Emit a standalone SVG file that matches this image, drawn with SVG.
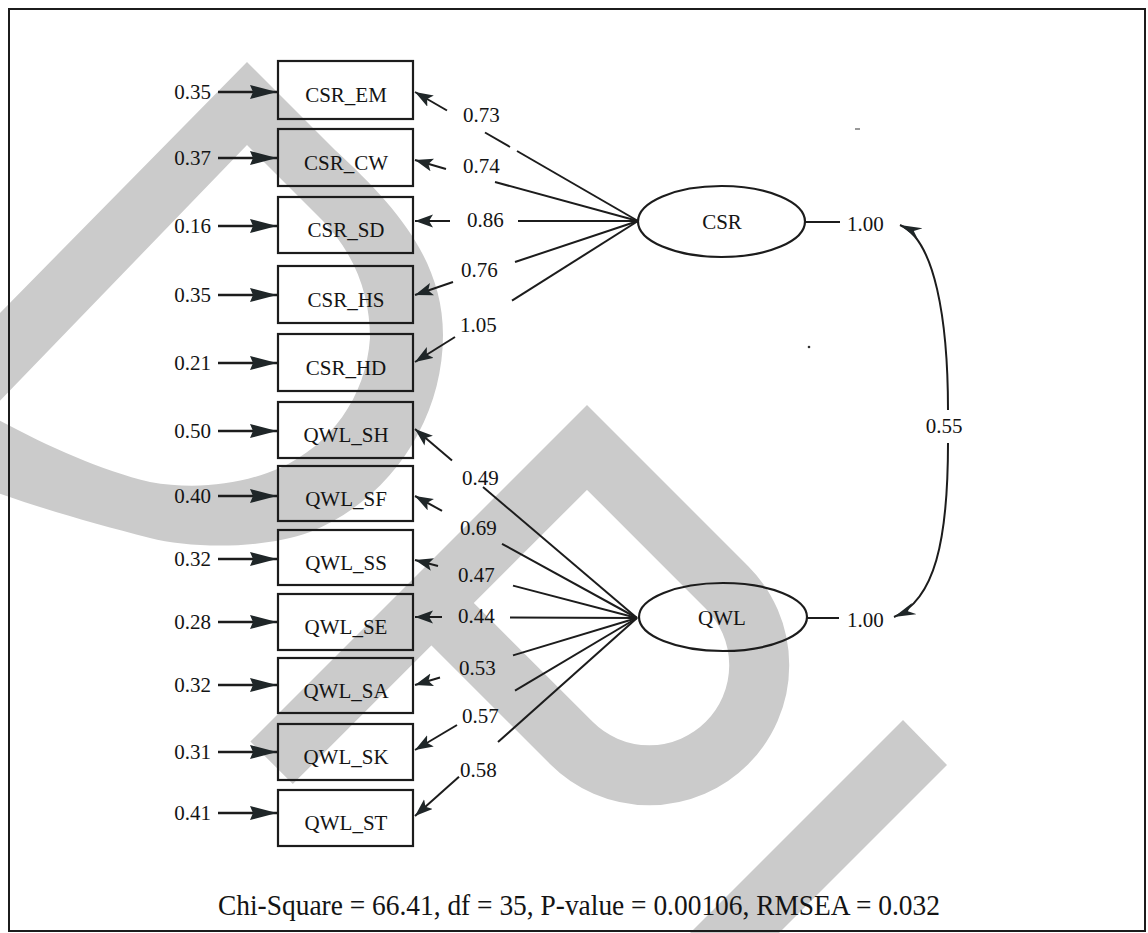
<svg xmlns="http://www.w3.org/2000/svg" width="1148" height="933" viewBox="0 0 1148 933">
<defs>
<style>
.wm{fill:none;stroke:#cbcbcb;stroke-linejoin:miter;stroke-miterlimit:10}
.wmf{fill:#cbcbcb;fill-rule:evenodd}
.box{fill:none;stroke:#1c1c1c;stroke-width:2.2}
.lat{fill:none;stroke:#1c1c1c;stroke-width:2.2}
.t{font-family:"Liberation Serif","Times New Roman",serif;font-size:21px;fill:#141414}
.tm{font-family:"Liberation Serif","Times New Roman",serif;font-size:21px;fill:#141414;text-anchor:middle}
.te{font-family:"Liberation Serif","Times New Roman",serif;font-size:21px;fill:#141414;text-anchor:end}
.err{stroke:#1c1c1c;stroke-width:2.6;marker-end:url(#hL)}
.ld{stroke:#1c1c1c;stroke-width:2}
.ah{stroke:#1c1c1c;stroke-width:2;marker-end:url(#hR)}
.cv{fill:none;stroke:#1c1c1c;stroke-width:2}
</style>
<marker id="hL" markerUnits="userSpaceOnUse" markerWidth="30" markerHeight="16" refX="27" refY="7" orient="auto"><path d="M0,0 L27,7 L0,14 L3,7 Z" fill="#1f2628"/></marker>
<marker id="hR" markerUnits="userSpaceOnUse" markerWidth="22" markerHeight="14" refX="18" refY="6.5" orient="auto"><path d="M0,0 L18,6.5 L0,13 L4,6.5 Z" fill="#1f2628"/></marker>
<marker id="hC" markerUnits="userSpaceOnUse" markerWidth="26" markerHeight="14" refX="22" refY="6" orient="auto-start-reverse"><path d="M0,0 L22,6 L0,12 L7,6 Z" fill="#1f2628"/></marker>
</defs>
<rect x="0" y="0" width="1148" height="933" fill="#ffffff"/>
<g id="watermark">
<path class="wmf" d="M-5,318 L247,62 L335,150 C395,205 443,260 443,335 C443,420 390,500 310,532 C260,550 190,548 150,538 C95,524 40,508 -5,492 Z M-5,406 L247,145 L318,216 C355,252 370,295 370,338 C366,398 330,445 280,468 C240,485 195,490 150,482 C100,470 45,445 -5,418 Z"/>
<path class="wm" transform="translate(587,405) rotate(45)" stroke-width="60" d="M30,476 L30,30 L228,30 A110,110 0 0 1 228,250 L30,250"/>
<polygon points="903,720 947,765 779,933 690,933" fill="#cbcbcb"/>
</g>
<rect id="frame" x="9" y="9" width="1136" height="922" fill="none" stroke="#1c1c1c" stroke-width="2"/>
<g id="connectors">
<line class="err" x1="218" y1="92" x2="277" y2="92"/>
<line class="err" x1="218" y1="158" x2="277" y2="158"/>
<line class="err" x1="218" y1="226" x2="277" y2="226"/>
<line class="err" x1="218" y1="295" x2="277" y2="295"/>
<line class="err" x1="218" y1="363" x2="277" y2="363"/>
<line class="err" x1="218" y1="431" x2="277" y2="431"/>
<line class="err" x1="218" y1="496" x2="277" y2="496"/>
<line class="err" x1="218" y1="559" x2="277" y2="559"/>
<line class="err" x1="218" y1="622" x2="277" y2="622"/>
<line class="err" x1="218" y1="685" x2="277" y2="685"/>
<line class="err" x1="218" y1="752" x2="277" y2="752"/>
<line class="err" x1="218" y1="813" x2="277" y2="813"/>
<line class="ld" x1="485" y1="132.5" x2="510" y2="147"/>
<line class="ld" x1="517" y1="151" x2="638" y2="221"/>
<line class="ld" x1="495" y1="182" x2="638" y2="221"/>
<line class="ld" x1="518" y1="221" x2="638" y2="221"/>
<line class="ld" x1="515" y1="262" x2="638" y2="221"/>
<line class="ld" x1="512" y1="300.7" x2="638" y2="221"/>
<line class="ah" x1="447" y1="110.5" x2="415" y2="92"/>
<line class="ah" x1="446" y1="169" x2="415" y2="160"/>
<line class="ah" x1="450" y1="221" x2="415" y2="221"/>
<line class="ah" x1="453" y1="282" x2="415" y2="295"/>
<line class="ah" x1="455" y1="337" x2="415" y2="362"/>
<line class="ld" x1="483" y1="487" x2="637" y2="618"/>
<line class="ld" x1="502" y1="543.8" x2="637" y2="618"/>
<line class="ld" x1="513" y1="585.6" x2="637" y2="618"/>
<line class="ld" x1="510" y1="617.5" x2="637" y2="618"/>
<line class="ld" x1="513" y1="655.4" x2="637" y2="618"/>
<line class="ld" x1="515" y1="690.6" x2="637" y2="618"/>
<line class="ld" x1="498" y1="742" x2="637" y2="618"/>
<line class="ah" x1="452" y1="460.5" x2="415" y2="429"/>
<line class="ah" x1="442" y1="510.8" x2="415" y2="496"/>
<line class="ah" x1="438" y1="566" x2="415" y2="560"/>
<line class="ah" x1="442" y1="617" x2="415" y2="617"/>
<line class="ah" x1="440" y1="677.5" x2="415" y2="685"/>
<line class="ah" x1="457" y1="725" x2="415" y2="750"/>
<line class="ah" x1="459" y1="776.8" x2="415" y2="816"/>
<line class="ld" x1="805" y1="222" x2="840" y2="222"/>
<line class="ld" x1="807" y1="618" x2="839" y2="618"/>
<path class="cv" d="M900,225 C935,240 948,320 948,410" marker-start="url(#hC)"/>
<path class="cv" d="M948,443 C948,540 935,600 894,617" marker-end="url(#hC)"/>
</g>
<g id="error-labels">
<text class="te" x="211" y="99">0.35</text>
<text class="te" x="211" y="165">0.37</text>
<text class="te" x="211" y="233">0.16</text>
<text class="te" x="211" y="302">0.35</text>
<text class="te" x="211" y="370">0.21</text>
<text class="te" x="211" y="438">0.50</text>
<text class="te" x="211" y="503">0.40</text>
<text class="te" x="211" y="566">0.32</text>
<text class="te" x="211" y="629">0.28</text>
<text class="te" x="211" y="692">0.32</text>
<text class="te" x="211" y="759">0.31</text>
<text class="te" x="211" y="820">0.41</text>
</g>
<g id="loading-labels">
<text class="t" x="463" y="122">0.73</text>
<text class="t" x="463" y="173">0.74</text>
<text class="t" x="467" y="227">0.86</text>
<text class="t" x="461" y="277">0.76</text>
<text class="t" x="460" y="332">1.05</text>
<text class="t" x="462" y="485">0.49</text>
<text class="t" x="460" y="535">0.69</text>
<text class="t" x="458" y="582">0.47</text>
<text class="t" x="458" y="623">0.44</text>
<text class="t" x="459" y="675">0.53</text>
<text class="t" x="462" y="723">0.57</text>
<text class="t" x="460" y="777">0.58</text>
<text class="t" x="847" y="231">1.00</text>
<text class="t" x="847" y="627">1.00</text>
<text class="tm" x="944" y="433">0.55</text>
</g>
<g id="CSR_EM"><rect class="box" x="278" y="61" width="135" height="58"/><text class="tm" x="346" y="102">CSR_EM</text></g>
<g id="CSR_CW"><rect class="box" x="278" y="129" width="135" height="57"/><text class="tm" x="346" y="169.5">CSR_CW</text></g>
<g id="CSR_SD"><rect class="box" x="278" y="197" width="135" height="56"/><text class="tm" x="346" y="237">CSR_SD</text></g>
<g id="CSR_HS"><rect class="box" x="278" y="266" width="135" height="57"/><text class="tm" x="346" y="306.5">CSR_HS</text></g>
<g id="CSR_HD"><rect class="box" x="278" y="334" width="135" height="57"/><text class="tm" x="346" y="374.5">CSR_HD</text></g>
<g id="QWL_SH"><rect class="box" x="278" y="402" width="135" height="56"/><text class="tm" x="346" y="442">QWL_SH</text></g>
<g id="QWL_SF"><rect class="box" x="278" y="466" width="135" height="55"/><text class="tm" x="346" y="505.5">QWL_SF</text></g>
<g id="QWL_SS"><rect class="box" x="278" y="530" width="135" height="55"/><text class="tm" x="346" y="569.5">QWL_SS</text></g>
<g id="QWL_SE"><rect class="box" x="278" y="594" width="135" height="56"/><text class="tm" x="346" y="634">QWL_SE</text></g>
<g id="QWL_SA"><rect class="box" x="278" y="658" width="135" height="55"/><text class="tm" x="346" y="697.5">QWL_SA</text></g>
<g id="QWL_SK"><rect class="box" x="278" y="724" width="135" height="56"/><text class="tm" x="346" y="764">QWL_SK</text></g>
<g id="QWL_ST"><rect class="box" x="278" y="790" width="135" height="56"/><text class="tm" x="346" y="830">QWL_ST</text></g>
<g id="CSR"><ellipse class="lat" cx="721.5" cy="221.5" rx="83.5" ry="35.5"/><text class="tm" x="722" y="229">CSR</text></g>
<g id="QWL"><ellipse class="lat" cx="723" cy="617" rx="84" ry="34"/><text class="tm" x="722" y="625">QWL</text></g>
<g id="fit-statistics"><text x="218" y="915" font-family="'Liberation Serif','Times New Roman',serif" font-size="29" fill="#141414" textLength="722" lengthAdjust="spacingAndGlyphs">Chi-Square = 66.41, df = 35, P-value = 0.00106, RMSEA = 0.032</text></g>
<g id="specks"><circle cx="809" cy="347" r="1.3" fill="#333"/><line x1="855" y1="129" x2="860" y2="129" stroke="#555" stroke-width="1.2"/></g>
</svg>
